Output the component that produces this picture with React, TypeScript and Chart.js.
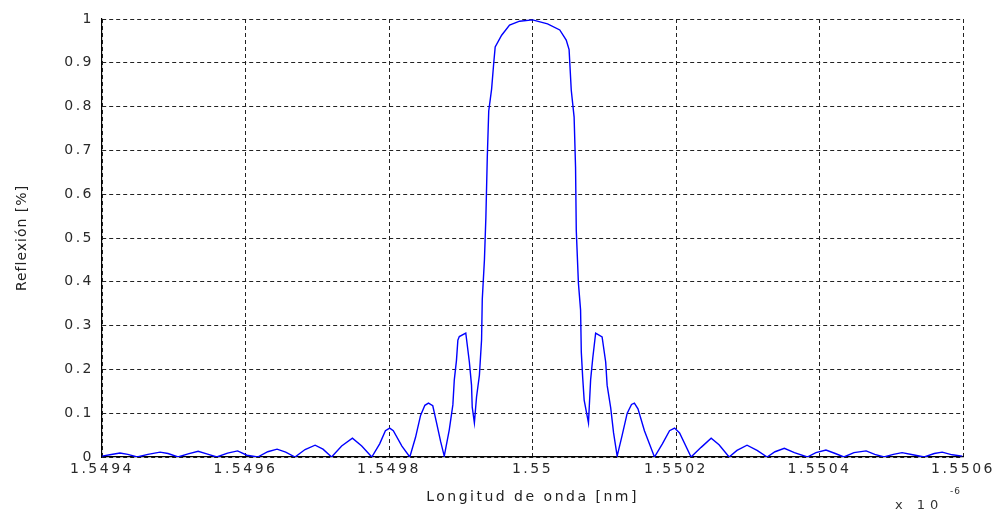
import { useEffect, useRef } from 'react';
import { Chart, registerables } from 'chart.js';

Chart.register(...registerables);

// Wavelength samples (x 10^-6 m) and reflection of the grating
const wavelength = [
  1.5494, 1.549411, 1.549425, 1.549436, 1.549449, 1.549464, 1.549481, 1.549492, 1.549506, 1.54952,
  1.549534, 1.549546, 1.54956, 1.549575, 1.549589, 1.549602, 1.549617, 1.549631, 1.549644, 1.549656,
  1.549669, 1.549683, 1.549697, 1.549708, 1.54972, 1.549734, 1.549749, 1.549762, 1.549776, 1.549787,
  1.549795, 1.549801, 1.549806, 1.549818, 1.549829, 1.549837, 1.549844, 1.54985, 1.549855, 1.549861,
  1.549866, 1.549872, 1.549877, 1.549884, 1.549889, 1.549891, 1.549894, 1.549896, 1.549898, 1.549907,
  1.549908, 1.549912, 1.549915, 1.549916, 1.549919, 1.549922, 1.549926, 1.549929, 1.54993, 1.549933,
  1.549935, 1.549937, 1.549939, 1.549943, 1.549946, 1.549948, 1.549957, 1.549968, 1.549982, 1.55,
  1.550021, 1.550038, 1.550047, 1.550051, 1.550054, 1.550058, 1.55006, 1.550061, 1.550064, 1.550067,
  1.550068, 1.55007, 1.550072, 1.550078, 1.550081, 1.550084, 1.550088, 1.550097, 1.550102, 1.550104,
  1.550109, 1.550113, 1.550118, 1.550125, 1.550132, 1.550138, 1.550142, 1.550147, 1.550156, 1.55017,
  1.550181, 1.550191, 1.550198, 1.550205, 1.550221, 1.550235, 1.550249, 1.55026, 1.550274, 1.550285,
  1.550299, 1.550313, 1.550327, 1.550338, 1.550351, 1.550365, 1.550383, 1.550395, 1.550409, 1.550422,
  1.550434, 1.550448, 1.550465, 1.550477, 1.55049, 1.550503, 1.550515, 1.55053, 1.550546, 1.55056,
  1.550571, 1.550585, 1.550599,
];

const reflection = [
  0.002, 0.005, 0.009, 0.006, 0.0, 0.006, 0.011, 0.008, 0.0, 0.007,
  0.013, 0.007, 0.0, 0.009, 0.014, 0.004, 0.0, 0.012, 0.018, 0.011,
  0.0, 0.017, 0.027, 0.018, 0.0, 0.025, 0.043, 0.025, 0.0, 0.03,
  0.06, 0.066, 0.06, 0.025, 0.0, 0.045, 0.095, 0.118, 0.123, 0.117,
  0.08, 0.035, 0.002, 0.062, 0.119, 0.176, 0.22, 0.267, 0.275, 0.283,
  0.27, 0.217, 0.164, 0.114, 0.078, 0.137, 0.187, 0.267, 0.36, 0.45,
  0.546, 0.685, 0.79, 0.84, 0.9, 0.936, 0.963, 0.986, 0.995, 0.998,
  0.989, 0.975, 0.952, 0.93, 0.838, 0.776, 0.662, 0.518, 0.397, 0.336,
  0.24, 0.18, 0.13, 0.078, 0.176, 0.226, 0.283, 0.274, 0.217, 0.164,
  0.112, 0.055, 0.002, 0.05, 0.1, 0.12, 0.123, 0.11, 0.06, 0.0,
  0.03, 0.06, 0.066, 0.055, 0.0, 0.022, 0.043, 0.028, 0.0, 0.015,
  0.027, 0.015, 0.0, 0.012, 0.02, 0.01, 0.0, 0.01, 0.016, 0.008,
  0.0, 0.01, 0.014, 0.006, 0.0, 0.006, 0.01, 0.005, 0.0, 0.008,
  0.011, 0.005, 0.002,
];

const xTicks = [1.5494, 1.5496, 1.5498, 1.55, 1.5502, 1.5504, 1.5506];
const yTicks = [0, 0.1, 0.2, 0.3, 0.4, 0.5, 0.6, 0.7, 0.8, 0.9, 1];

const xTitle = 'Longitud de onda [nm]';
const yTitle = 'Reflexión [%]';
const exponentBase = 'x 10';
const exponent = '-6';

const FONT = '"DejaVu Sans", sans-serif';
const WIDE = '2.5px';

const textPlugin = {
  id: 'wideText',
  beforeLayout(chart: any) {
    chart.ctx.letterSpacing = WIDE;
  },
  beforeDraw(chart: any) {
    chart.ctx.letterSpacing = WIDE;
  },
  afterDraw(chart: any) {
    const ctx = chart.ctx;
    ctx.save();
    ctx.fillStyle = '#222';
    // rotated y-axis title
    ctx.letterSpacing = '1px';
    ctx.font = `14px ${FONT}`;
    ctx.translate(22, chart.chartArea.top + (chart.chartArea.bottom - chart.chartArea.top) / 2);
    ctx.rotate(-Math.PI / 2);
    ctx.textAlign = 'center';
    ctx.textBaseline = 'middle';
    ctx.fillText(yTitle, 0, 0);
    ctx.restore();

    // scale exponent under the right end of the x axis
    ctx.save();
    ctx.fillStyle = '#333';
    ctx.letterSpacing = '5px';
    ctx.textAlign = 'left';
    ctx.textBaseline = 'alphabetic';
    ctx.font = `13px ${FONT}`;
    ctx.fillText(exponentBase, 895, 509);
    ctx.font = `9px ${FONT}`;
    ctx.letterSpacing = '1px';
    ctx.fillText(exponent, 950, 494);
    ctx.restore();
  },
};

export default function App() {
  const canvasRef = useRef<HTMLCanvasElement | null>(null);

  useEffect(() => {
    const canvas = canvasRef.current;
    if (!canvas) return;
    const points = wavelength.map((x, i) => ({ x, y: reflection[i] }));
    const chart = new Chart(canvas, {
      type: 'line',
      data: {
        datasets: [
          {
            data: points,
            borderColor: '#0000ff',
            borderWidth: 1.4,
            pointRadius: 0,
            tension: 0,
            fill: false,
          },
        ],
      },
      options: {
        responsive: false,
        animation: false,
        events: [],
        layout: { padding: { top: 19, right: 40, left: 0, bottom: 0 } },
        plugins: {
          legend: { display: false },
          tooltip: { enabled: false },
          title: { display: false },
        },
        scales: {
          x: {
            type: 'linear',
            min: 1.5494,
            max: 1.5506,
            afterBuildTicks: (scale: any) => {
              scale.ticks = xTicks.map((v) => ({ value: v }));
            },
            afterFit: (scale: any) => {
              scale.height = 58;
            },
            grid: {
              color: '#222',
              lineWidth: 1,
              drawTicks: false,
            },
            border: { display: true, color: '#000', width: 1.2, dash: [4, 3] },
            ticks: {
              autoSkip: false,
              maxRotation: 0,
              minRotation: 0,
              padding: 4,
              color: '#2a2a2a',
              font: { family: FONT, size: 14 },
              callback: (v: any) => String(Number(Number(v).toFixed(4))),
            },
            title: {
              display: true,
              text: xTitle,
              color: '#222',
              font: { family: FONT, size: 14 },
              padding: { top: 0, bottom: 9 },
            },
          },
          y: {
            type: 'linear',
            min: 0,
            max: 1,
            afterBuildTicks: (scale: any) => {
              scale.ticks = yTicks.map((v) => ({ value: v }));
            },
            afterFit: (scale: any) => {
              scale.width = 102;
            },
            grid: {
              color: '#222',
              lineWidth: 1,
              drawTicks: false,
            },
            border: { display: true, color: '#000', width: 1.2, dash: [4, 3] },
            ticks: {
              autoSkip: false,
              padding: 8,
              color: '#2a2a2a',
              font: { family: FONT, size: 14 },
              callback: (v: any) => String(Number(Number(v).toFixed(1))),
            },
          },
        },
      },
      plugins: [textPlugin],
    });
    return () => chart.destroy();
  }, []);

  return (
    <div style={{ position: 'absolute', left: 0, top: 0, width: 1003, height: 515, background: '#fff' }}>
      <canvas ref={canvasRef} width={1003} height={515} style={{ display: 'block' }} />
    </div>
  );
}
